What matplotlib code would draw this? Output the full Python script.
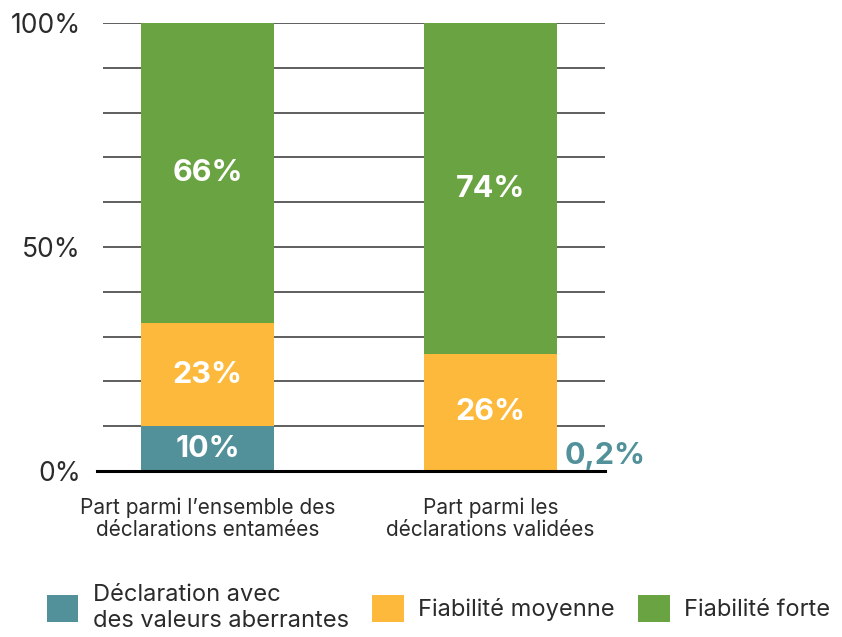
import matplotlib.pyplot as plt
import numpy as np

plt.rcParams['font.family'] = ['Inter', 'DejaVu Sans']

categories = ["Part parmi l\u2019ensemble des\nd\u00e9clarations entam\u00e9es",
              "Part parmi les\nd\u00e9clarations valid\u00e9es"]
series_names = ["D\u00e9claration avec\ndes valeurs aberrantes",
                "Fiabilit\u00e9 moyenne",
                "Fiabilit\u00e9 forte"]
# parts (en %)
aberrantes = [10.0, 0.2]
moyenne = [23.0, 25.9]
forte = [67.0, 73.9]
# étiquettes affichées
labels_aberrantes = ["10%", "0,2%"]
labels_moyenne = ["23%", "26%"]
labels_forte = ["66%", "74%"]
yticks = [0, 50, 100]
ytick_labels = ["0%", "50%", "100%"]

colors = ["#52919A", "#FDB93B", "#6AA342"]
text_color = "#2b2b2b"

fig = plt.figure(figsize=(8.42, 6.37), dpi=100)
ax = fig.add_axes([103 / 842, 1 - 471 / 637, (605 - 103) / 842, (471 - 23) / 637])

x = np.arange(len(categories))
width = 0.47

# lignes de grille tous les 10 %
for v in range(10, 101, 10):
    ax.axhline(v, color="#333333", lw=1.1, zorder=1)

series = [aberrantes, moyenne, forte]
all_labels = [labels_aberrantes, labels_moyenne, labels_forte]
bottom = np.zeros(len(categories))
containers = []
for vals, col, name, labs in zip(series, colors, series_names, all_labels):
    vals = np.array(vals)
    bars = ax.bar(x, vals, width, bottom=bottom, color=col, label=name, zorder=2)
    containers.append(bars)
    for i, (b, lab) in enumerate(zip(bars, labs)):
        if vals[i] < 2:
            # trop petit : étiquette à côté de la barre
            ax.annotate(lab, (b.get_x() + b.get_width(), bottom[i] + vals[i]),
                        xytext=(8, 14), textcoords="offset pixels",
                        ha="left", va="center", fontsize=22, fontweight="bold",
                        color=col, zorder=4)
        else:
            ax.text(b.get_x() + b.get_width() / 2, bottom[i] + vals[i] / 2, lab,
                    ha="center", va="center", fontsize=22, fontweight="bold",
                    color="white", zorder=4)
    bottom += vals

ax.axhline(0, color="black", lw=2.2, zorder=3, xmin=-0.012, clip_on=False)

ax.set_xlim(-0.37, 1.405)
ax.set_ylim(0, 100)
ax.set_yticks(yticks)
ax.set_yticklabels(ytick_labels, fontsize=19, color=text_color)
ax.set_xticks(x)
ax.set_xticklabels(categories, fontsize=15, color=text_color, linespacing=1.15)
ax.tick_params(axis="both", length=0)
ax.tick_params(axis="y", pad=16)
ax.tick_params(axis="x", pad=19)
for s in ax.spines.values():
    s.set_visible(False)

fig.legend(handles=containers, labels=series_names, loc="lower left",
           bbox_to_anchor=(0.03, -0.025), ncol=3, frameon=False,
           fontsize=17, handlelength=1.35, handleheight=1.35,
           handletextpad=0.6, columnspacing=1.0, labelcolor=text_color,
           labelspacing=0.2)

fig.savefig("out.png", dpi=100)
